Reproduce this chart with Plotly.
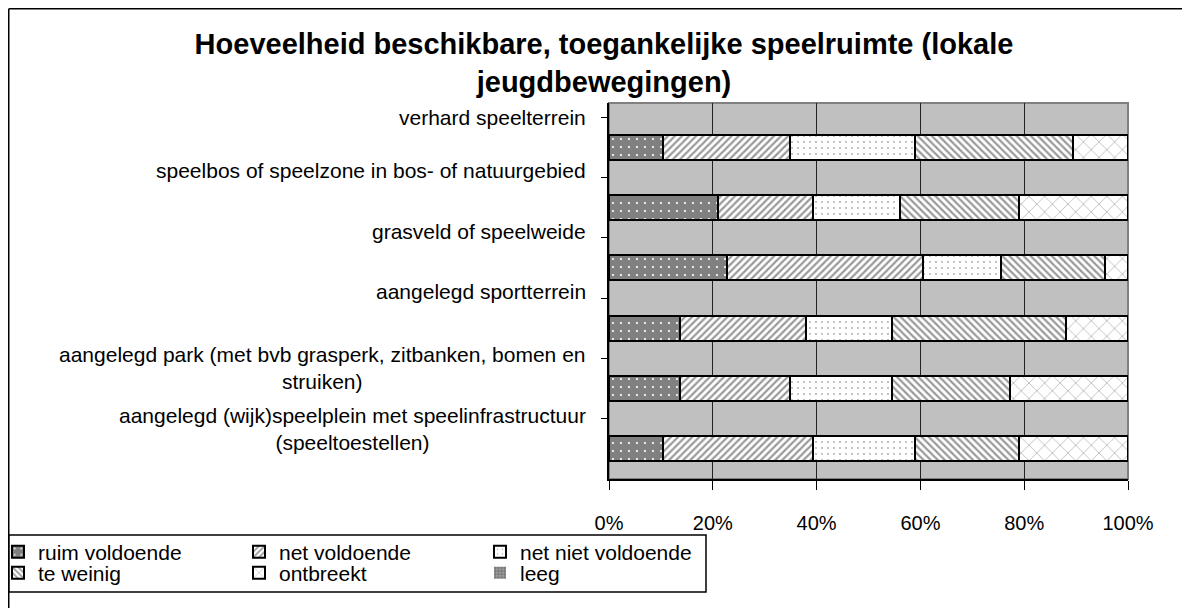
import plotly.graph_objects as go

# ---- data (top to bottom) ----
categories = [
    "verhard speelterrein",
    "speelbos of speelzone in bos- of natuurgebied",
    "grasveld of speelweide",
    "aangelegd sportterrein",
    "aangelegd park (met bvb grasperk, zitbanken, bomen en struiken)",
    "aangelegd (wijk)speelplein met speelinfrastructuur (speeltoestellen)",
]
category_labels = [
    "verhard speelterrein",
    "speelbos of speelzone in bos- of natuurgebied",
    "grasveld of speelweide",
    "aangelegd sportterrein",
    "aangelegd park (met bvb grasperk, zitbanken, bomen en<br>struiken)",
    "aangelegd (wijk)speelplein met speelinfrastructuur<br>(speeltoestellen)",
]
ruim_voldoende = [10.4, 21.0, 22.8, 13.6, 13.6, 10.4]
net_voldoende = [24.4, 18.3, 37.7, 24.3, 21.2, 28.9]
net_niet_voldoende = [24.2, 16.7, 15.1, 16.7, 19.8, 19.7]
te_weinig = [30.4, 23.0, 19.9, 33.5, 22.6, 20.0]
ontbreekt = [10.6, 21.0, 4.5, 11.9, 22.8, 21.0]
leeg = [0, 0, 0, 0, 0, 0]
x_ticks = [0, 20, 40, 60, 80, 100]
x_tick_labels = ["0%", "20%", "40%", "60%", "80%", "100%"]

title_text = "Hoeveelheid beschikbare, toegankelijke speelruimte (lokale<br>jeugdbewegingen)"

# ---- layout geometry (page offset of 8px from body margin) ----
OFF = 8
W, H = 1190, 608
L, R, T, B = 601, 70, 95, 137
PW, PH = W - L - R, H - T - B

def px_x(sx):
    return (sx - OFF - L) / PW

def px_y(sy):
    return (H - B - (sy - OFF)) / PH

series = [
    ("ruim voldoende", ruim_voldoende, dict(shape=".", bgcolor="#808080", fgcolor="#FFFFFF", size=8, solidity=0.06), "legend"),
    ("net voldoende", net_voldoende, dict(shape="/", bgcolor="#FFFFFF", fgcolor="#9A9A9A", size=5, solidity=0.45), "legend"),
    ("net niet voldoende", net_niet_voldoende, dict(shape=".", bgcolor="#FFFFFF", fgcolor="#A8A8A8", size=6, solidity=0.07), "legend"),
    ("te weinig", te_weinig, dict(shape="\\", bgcolor="#FFFFFF", fgcolor="#9A9A9A", size=5, solidity=0.45), "legend2"),
    ("ontbreekt", ontbreekt, dict(shape="x", bgcolor="#FFFFFF", fgcolor="#A8A8A8", size=11, solidity=0.12), "legend2"),
    ("leeg", leeg, dict(shape="+", bgcolor="#A0A0A0", fgcolor="#555555", size=4, solidity=0.3), "legend2"),
]

fig = go.Figure()
for name, vals, pat, lg in series:
    fig.add_trace(go.Bar(
        y=categories, x=vals, name=name, orientation="h",
        marker=dict(color=pat["bgcolor"], pattern=dict(fillmode="replace", **pat),
                    line=dict(color="#000000", width=0 if name == "leeg" else 2)),
        legend=lg,
    ))

annotations = []
for i, lab in enumerate(category_labels):
    if "<br>" in lab:
        ys = 17
    elif i == 0:
        ys = 13
    else:
        ys = 20
    annotations.append(dict(
        x=0, xref="paper", xshift=-21, xanchor="right",
        y=i - 0.5, yref="y", yanchor="top", yshift=ys,
        text=lab, align="center", showarrow=False,
        font=dict(family="Liberation Sans, Arial", size=21, color="#000000"),
    ))

shapes = [
    # plot area border
    dict(type="rect", xref="paper", yref="paper", x0=0, x1=1, y0=0, y1=1,
         line=dict(color="#808080", width=2), layer="below"),
    # chart outer frame (top & left)
    dict(type="line", xref="paper", yref="paper", x0=px_x(OFF + 0.75), x1=px_x(W + 20),
         y0=px_y(OFF + 0.75), y1=px_y(OFF + 0.75), line=dict(color="#000000", width=1.5)),
    dict(type="line", xref="paper", yref="paper", x0=px_x(OFF + 0.75), x1=px_x(OFF + 0.75),
         y0=px_y(OFF + 0.75), y1=px_y(H + 20), line=dict(color="#000000", width=1.5)),
    # legend box
    dict(type="rect", xref="paper", yref="paper", x0=px_x(OFF + 0.75), x1=px_x(706), y0=px_y(535), y1=px_y(592),
         line=dict(color="#000000", width=1.5), fillcolor="rgba(0,0,0,0)"),
]

legend_common = dict(
    orientation="h", xref="paper", yref="paper", xanchor="left", yanchor="middle",
    font=dict(family="Liberation Sans, Arial", size=21, color="#000000"),
    bgcolor="rgba(0,0,0,0)", borderwidth=0, entrywidth=196, entrywidthmode="pixels", itemwidth=30,
    traceorder="normal", itemclick=False, itemdoubleclick=False,
)

fig.update_layout(
    width=W, height=H,
    margin=dict(l=L, r=R, t=T, b=B, pad=0, autoexpand=False),
    paper_bgcolor="#FFFFFF", plot_bgcolor="#C0C0C0",
    barmode="stack", barnorm="percent", bargap=0.585,
    title=dict(text=title_text, x=(604 - OFF) / W, xanchor="center", xref="container",
               y=1 - 46 / H, yanchor="top", yref="container",
               font=dict(family="Liberation Sans, Arial", size=29, color="#000000", weight="bold")),
    xaxis=dict(range=[0, 100], tickmode="array", tickvals=x_ticks, ticktext=x_tick_labels, showgrid=True,
               gridcolor="#222222", gridwidth=1, ticks="outside", ticklen=9, tickcolor="#000000",
               tickwidth=1, showline=True, linecolor="#000000", linewidth=1.5,
               ticklabelstandoff=16, zeroline=False,
               tickfont=dict(family="Liberation Sans, Arial", size=20, color="#000000")),
    yaxis=dict(categoryorder="array", categoryarray=categories, autorange="reversed",
               showticklabels=False, ticks="outside", tickson="boundaries", ticklen=6,
               tickcolor="#000000", showline=True, linecolor="#000000", linewidth=1.5,
               showgrid=False, zeroline=False),
    legend=dict(x=px_x(-2), y=px_y(552), **legend_common),
    legend2=dict(x=px_x(-2), y=px_y(573), **legend_common),
    annotations=annotations,
    shapes=shapes,
    showlegend=True,
)

fig.write_html("out.html")
